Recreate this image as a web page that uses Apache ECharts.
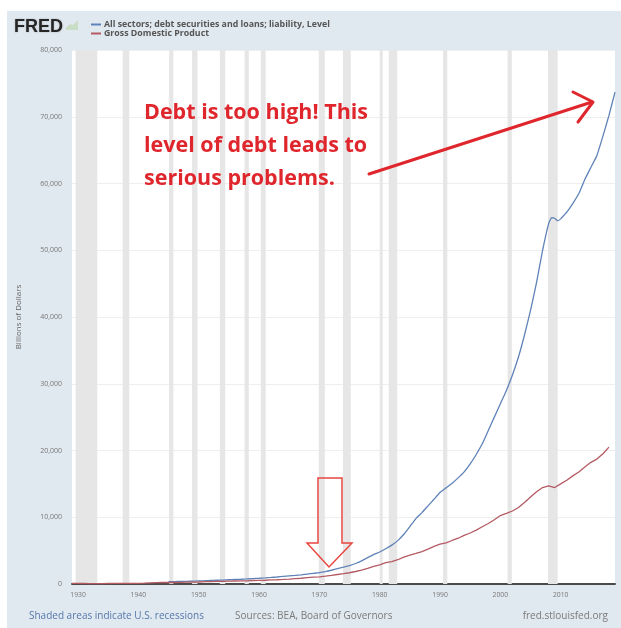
<!DOCTYPE html>
<html>
<head>
<meta charset="utf-8">
<script src="https://cdn.jsdelivr.net/npm/echarts@6/dist/echarts.min.js"></script>
<style>
html,body{margin:0;padding:0;background:#fff;}
#chart{width:621px;height:628px;}
</style>
</head>
<body>
<div id="chart"></div>
<script>
// ---- data (billions of dollars) ----
const debtYears = [1945,1946,1947,1948,1949,1950,1951,1952,1953,1954,1955,1956,1957,1958,1959,1960,1961,1962,1963,1964,1965,1966,1967,1968,1969,1970,1971,1972,1973,1974,1975,1976,1977,1978,1979,1980,1981,1982,1983,1984,1985,1986,1987,1988,1989,1990,1991,1992,1993,1994,1995,1996,1997,1998,1999,2000,2001,2002,2003,2004,2005,2006,2007,2008,2008.5,2009,2009.5,2010,2010.5,2011,2012,2013,2014,2015,2016,2017,2018,2019];
const debtValues = [355,360,385,405,425,465,495,530,560,590,640,675,710,755,815,860,915,980,1050,1130,1210,1290,1380,1490,1590,1690,1850,2060,2300,2520,2760,3070,3470,3940,4400,4800,5280,5820,6500,7450,8600,9800,10700,11700,12700,13700,14400,15100,15900,16800,18000,19400,21000,23000,25000,27000,29000,31300,34000,37300,41000,45200,50000,54000,54900,54800,54400,54700,55200,55700,57000,58500,60600,62400,64200,67100,70200,73700];
const gdpYears = [1929,1930,1931,1932,1933,1934,1935,1936,1937,1938,1939,1940,1941,1942,1943,1944,1945,1946,1947,1948,1949,1950,1951,1952,1953,1954,1955,1956,1957,1958,1959,1960,1961,1962,1963,1964,1965,1966,1967,1968,1969,1970,1971,1972,1973,1974,1975,1976,1977,1978,1979,1980,1981,1982,1983,1984,1985,1986,1987,1988,1989,1990,1991,1992,1993,1994,1995,1996,1997,1998,1999,2000,2001,2002,2003,2004,2005,2006,2007,2008,2009,2010,2011,2012,2013,2014,2015,2016,2017,2018];
const gdpValues = [105,92,77,60,57,67,74,85,93,87,93,103,130,166,203,225,229,228,250,275,272,300,347,367,389,391,425,449,474,482,522,543,563,605,639,685,743,815,861,942,1019,1073,1165,1279,1425,1545,1684,1873,2082,2352,2627,2857,3207,3343,3634,4037,4339,4579,4855,5236,5641,5963,6158,6520,6858,7287,7640,8073,8577,9063,9631,10252,10582,10936,11458,12214,13037,13815,14452,14713,14449,14992,15543,16197,16785,17527,18225,18715,19519,20500];
const recessionStarts = [1929.6,1937.4,1945.1,1948.9,1953.5,1957.6,1960.3,1969.9,1973.9,1980.0,1981.5,1990.5,2001.2,2007.9];
const recessionEnds   = [1933.2,1938.5,1945.8,1949.8,1954.4,1958.3,1961.1,1970.9,1975.2,1980.5,1982.9,1991.2,2001.9,2009.5];
const xTickLabels = [1930,1940,1950,1960,1970,1980,1990,2000,2010];
const seriesNames = ['All sectors; debt securities and loans; liability, Level','Gross Domestic Product'];

const debtData = debtYears.map((y,i)=>[y,debtValues[i]]);
const gdpData = gdpYears.map((y,i)=>[y,gdpValues[i]]);
const recessionAreas = recessionStarts.map((s,i)=>[{xAxis:s},{xAxis:recessionEnds[i]}]);

const chart = echarts.init(document.getElementById('chart'), null, {renderer:'canvas'});
const RED = '#e0262d';
const option = {
  backgroundColor: '#e1e9f0',
  animation: false,
  textStyle: {fontFamily: 'Open Sans, Noto Sans, sans-serif'},
  title: {
    text: 'FRED', left: 9, top: 13,
    textStyle: {fontFamily:'Liberation Sans, Arial, sans-serif', fontSize: 18, fontWeight: 900, color: '#262626', textShadowColor:'rgba(0,0,0,0.25)', textShadowBlur:2}
  },
  legend: {
    orient: 'vertical', left: 86, top: 15, itemGap: 0,
    itemWidth: 10, itemHeight: 2, icon: 'rect',
    textStyle: {fontSize: 8.8, lineHeight: 9, fontWeight: 'bold', color: '#555', padding:[0,0,0,-2]},
    data: seriesNames
  },
  grid: {left: 72, right: 6, top: 50, bottom: 44, show: true, backgroundColor: '#ffffff', borderWidth: 0},
  xAxis: {
    type: 'value', min: 1929, max: 2019,
    axisLine: {show: true, lineStyle: {color: '#4a4a4a', width: 2}},
    axisTick: {show: false},
    splitLine: {show: false},
    axisLabel: {customValues: xTickLabels, fontSize: 6.8, color: '#777', margin: 8, formatter: v => String(v)}
  },
  yAxis: {
    type: 'value', min: 0, max: 80000, interval: 10000,
    name: 'Billions of Dollars', nameLocation: 'middle', nameRotate: 90, nameGap: 49,
    nameTextStyle: {fontSize: 8, color: '#666'},
    axisLine: {show: false}, axisTick: {show: false},
    splitLine: {lineStyle: {color: '#eeeeee', width: 1}},
    axisLabel: {fontSize: 7, color: '#777', margin: 10, formatter: v => v.toLocaleString('en-US')}
  },
  series: [
    {
      name: 'recessions', type: 'line', data: [], z: 1, silent: true,
      markArea: {silent: true, itemStyle: {color: '#e6e6e6'}, data: recessionAreas}
    },
    {
      name: seriesNames[0], type: 'line', data: debtData, showSymbol: false, z: 3, smooth: 0.15,
      lineStyle: {color: '#5f83b8', width: 1.3}, itemStyle: {color: '#5f83b8'}
    },
    {
      name: seriesNames[1], type: 'line', data: gdpData, showSymbol: false, z: 3,
      lineStyle: {color: '#b45a62', width: 1.3}, itemStyle: {color: '#b45a62'}
    }
  ],
  graphic: [
    {type:'rect', z:100, shape:{x:0,y:0,width:621,height:11}, style:{fill:'#fff'}, silent:true},
    {type:'rect', z:100, shape:{x:0,y:0,width:7,height:628}, style:{fill:'#fff'}, silent:true},
    // small FRED chart icon
    {type:'polygon', z:100, shape:{points:[[66,30],[78,30],[78,20],[73,25],[70,24],[66,28]]}, style:{fill:'#c9dcc4'}, silent:true},
    // annotation text
    {type:'text', z:100, left: 144, top: 96, silent:true,
      style:{text:'Debt is too high! This\nlevel of debt leads to\nserious problems.', fill: RED,
        font:'bold 21.5px "Open Sans", Lato, sans-serif', lineHeight: 33}},
    // red arrow
    {type:'line', z:100, shape:{x1:369,y1:174,x2:592,y2:102}, style:{stroke:RED, lineWidth:3, lineCap:'round'}, silent:true},
    {type:'polyline', z:100, shape:{points:[[573,92],[593,102],[578,122]]}, style:{stroke:RED, lineWidth:3, fill:null, lineCap:'round', lineJoin:'round'}, silent:true},
    // hollow down arrow
    {type:'polygon', z:100, shape:{points:[[318,478],[342,478],[342,543],[352,543],[329,567],[307,543],[318,543]]},
      style:{stroke:'#e8473f', lineWidth:1.5, fill:'rgba(255,255,255,0)'}, silent:true},
    // footer
    {type:'text', z:100, left: 29, top: 611, silent:true, style:{text:'Shaded areas indicate U.S. recessions', fill:'#5577aa', font:'10px "Open Sans", sans-serif'}},
    {type:'text', z:100, left: 235, top: 611, silent:true, style:{text:'Sources: BEA, Board of Governors', fill:'#7a7a7a', font:'10px "Open Sans", sans-serif'}},
    {type:'text', z:100, right: 13, top: 611, silent:true, style:{text:'fred.stlouisfed.org', fill:'#7a7a7a', font:'10px "Open Sans", sans-serif'}}
  ]
};
chart.setOption(option);
</script>
</body>
</html>
